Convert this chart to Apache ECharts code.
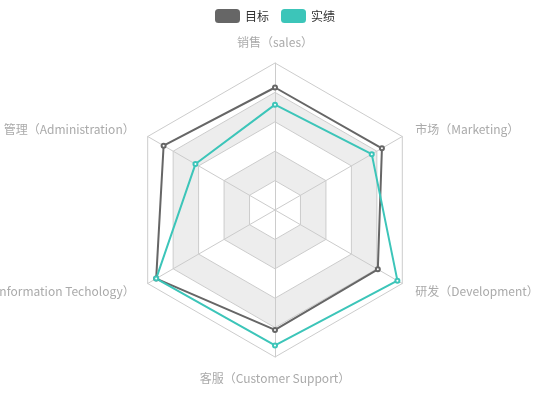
<!DOCTYPE html>
<html>
<head>
<meta charset="utf-8">
<script src="https://cdn.jsdelivr.net/npm/echarts@6/dist/echarts.min.js"></script>
<style>
    html, body { margin: 0; padding: 0; background: #fff; }
    #chart { width: 550px; height: 420px; }
</style>
</head>
<body>
<div id="chart"></div>
<script>
    // indicator names and their maxima
    const indicatorNames = ['销售（sales）', '管理（Administration）', '信息技术（Information Techology）',
        '客服（Customer Support）', '研发（Development）', '市场（Marketing）'];
    const indicatorMax = [6000, 16000, 30000, 38000, 52000, 25000];

    const seriesNames = ['目标', '实绩'];
    const targetValues = [5000, 14000, 28000, 31000, 42000, 21000];
    const actualValues = [4300, 10000, 28000, 35000, 50000, 19000];

    const colors = ['#666666', '#3cc5b9'];

    const chart = echarts.init(document.getElementById('chart'));

    chart.setOption({
        color: colors,
        textStyle: {
            fontFamily: '"Noto Sans CJK SC", "Noto Sans", sans-serif'
        },
        legend: {
            data: seriesNames,
            top: 4,
            itemWidth: 25,
            itemHeight: 14,
            itemGap: 12,
            textStyle: {color: '#333', fontSize: 12}
        },
        radar: {
            center: ['50%', 210],
            radius: 147,
            splitNumber: 5,
            axisName: {
                color: '#aaa',
                fontSize: 12
            },
            axisLine: {lineStyle: {color: '#ccc'}},
            splitLine: {lineStyle: {color: '#ccc'}},
            splitArea: {
                areaStyle: {color: ['#ffffff', '#ededed']}
            },
            indicator: indicatorNames.map((name, i) => ({
                name: name,
                max: indicatorMax[i]
            }))
        },
        series: [{
            type: 'radar',
            symbol: 'emptyCircle',
            symbolSize: 4,
            itemStyle: {borderWidth: 1},
            lineStyle: {width: 2},
            data: [
                {value: targetValues, name: seriesNames[0]},
                {value: actualValues, name: seriesNames[1]}
            ]
        }]
    });
</script>
</body>
</html>
